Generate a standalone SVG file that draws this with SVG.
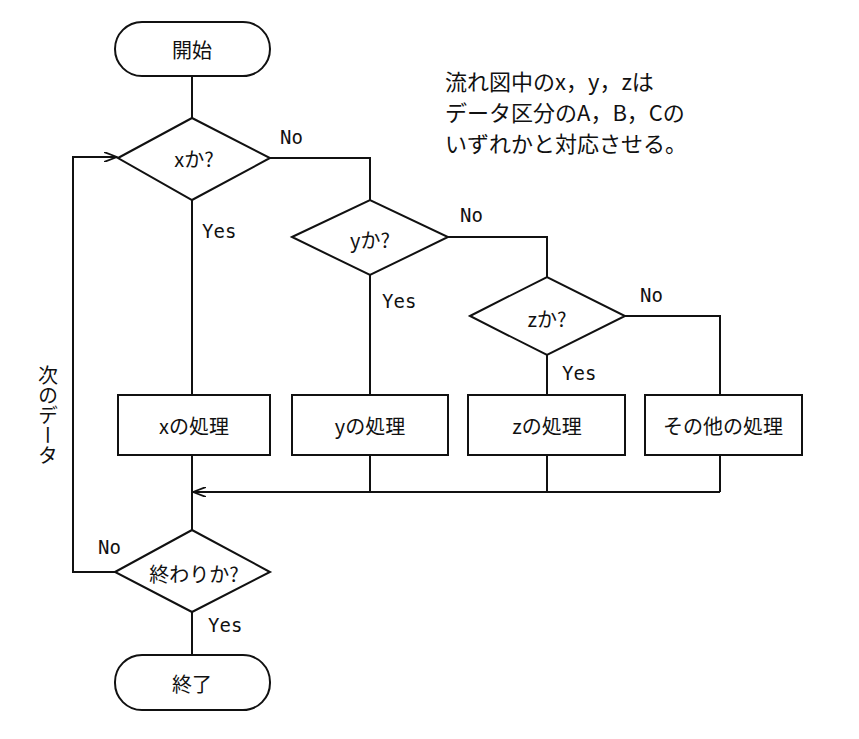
<svg xmlns="http://www.w3.org/2000/svg" width="859" height="739" viewBox="0 0 859 739">
<style>
.s{fill:#fff;stroke:#111;stroke-width:2}
.c{fill:none;stroke:#111;stroke-width:2}
text{font-family:"Noto Sans CJK JP","DejaVu Sans Mono",sans-serif;font-size:20px;fill:#111}
.m{text-anchor:middle;dominant-baseline:central}
.l{font-family:"DejaVu Sans Mono","Noto Sans CJK JP",monospace;font-size:19px}
.n{font-size:22px}
</style>
<defs><marker id="a" markerWidth="14" markerHeight="10" refX="13" refY="5" orient="auto" markerUnits="userSpaceOnUse"><path d="M0,0 L13,5 L0,10" fill="none" stroke="#111" stroke-width="1.8"/></marker></defs>
<rect width="859" height="739" fill="#fff"/>
<g id="connectors">
<path class="c" d="M192,76V118"/>
<path class="c" d="M270,158H370V200"/>
<path class="c" d="M192,200V395"/>
<path class="c" d="M448,237H547V277"/>
<path class="c" d="M370,275V395"/>
<path class="c" d="M625,316H720V395"/>
<path class="c" d="M547,355V395"/>
<path class="c" d="M370,455V492M547,455V492M720,455V492"/>
<path class="c" d="M720,492H193" marker-end="url(#a)"/>
<path class="c" d="M192,455V530"/>
<path class="c" d="M115,572H73V157H117" marker-end="url(#a)"/>
<path class="c" d="M192,612V655"/>
</g>
<g id="start"><rect class="s" x="115" y="22" width="155" height="54" rx="27"/><text class="m" x="192" y="49">開始</text></g>
<g id="dx"><path class="s" d="M118,158L192,118L270,158L192,200Z"/><text class="m" x="194" y="158">xか?</text></g>
<g id="dy"><path class="s" d="M292,237L370,200L448,237L370,275Z"/><text class="m" x="370" y="239">yか?</text></g>
<g id="dz"><path class="s" d="M470,316L547,277L625,316L547,355Z"/><text class="m" x="547" y="318">zか?</text></g>
<g id="px"><rect class="s" x="118" y="395" width="152" height="60"/><text class="m" x="194" y="425">xの処理</text></g>
<g id="py"><rect class="s" x="292" y="395" width="156" height="60"/><text class="m" x="370" y="425">yの処理</text></g>
<g id="pz"><rect class="s" x="468" y="395" width="157" height="60"/><text class="m" x="547" y="425">zの処理</text></g>
<g id="po"><rect class="s" x="645" y="395" width="157" height="60"/><text class="m" x="723" y="425">その他の処理</text></g>
<g id="dend"><path class="s" d="M115,572L192,530L270,572L192,612Z"/><text class="m" x="194" y="573">終わりか?</text></g>
<g id="end"><rect class="s" x="115" y="655" width="155" height="55" rx="27"/><text class="m" x="192" y="683">終了</text></g>
<g id="labels">
<text class="l" x="280" y="144">No</text>
<text class="l" x="202" y="238">Yes</text>
<text class="l" x="460" y="222">No</text>
<text class="l" x="382" y="308">Yes</text>
<text class="l" x="640" y="302">No</text>
<text class="l" x="562" y="380">Yes</text>
<text class="l" x="98" y="554">No</text>
<text class="l" x="208" y="632">Yes</text>
<text x="48" y="365" style="writing-mode:vertical-rl" text-anchor="start">次のデータ</text>
<text class="n" x="445" y="90">流れ図中のx，y，zは</text>
<text class="n" x="445" y="121">データ区分のA，B，Cの</text>
<text class="n" x="445" y="152">いずれかと対応させる。</text>
</g>
</svg>
